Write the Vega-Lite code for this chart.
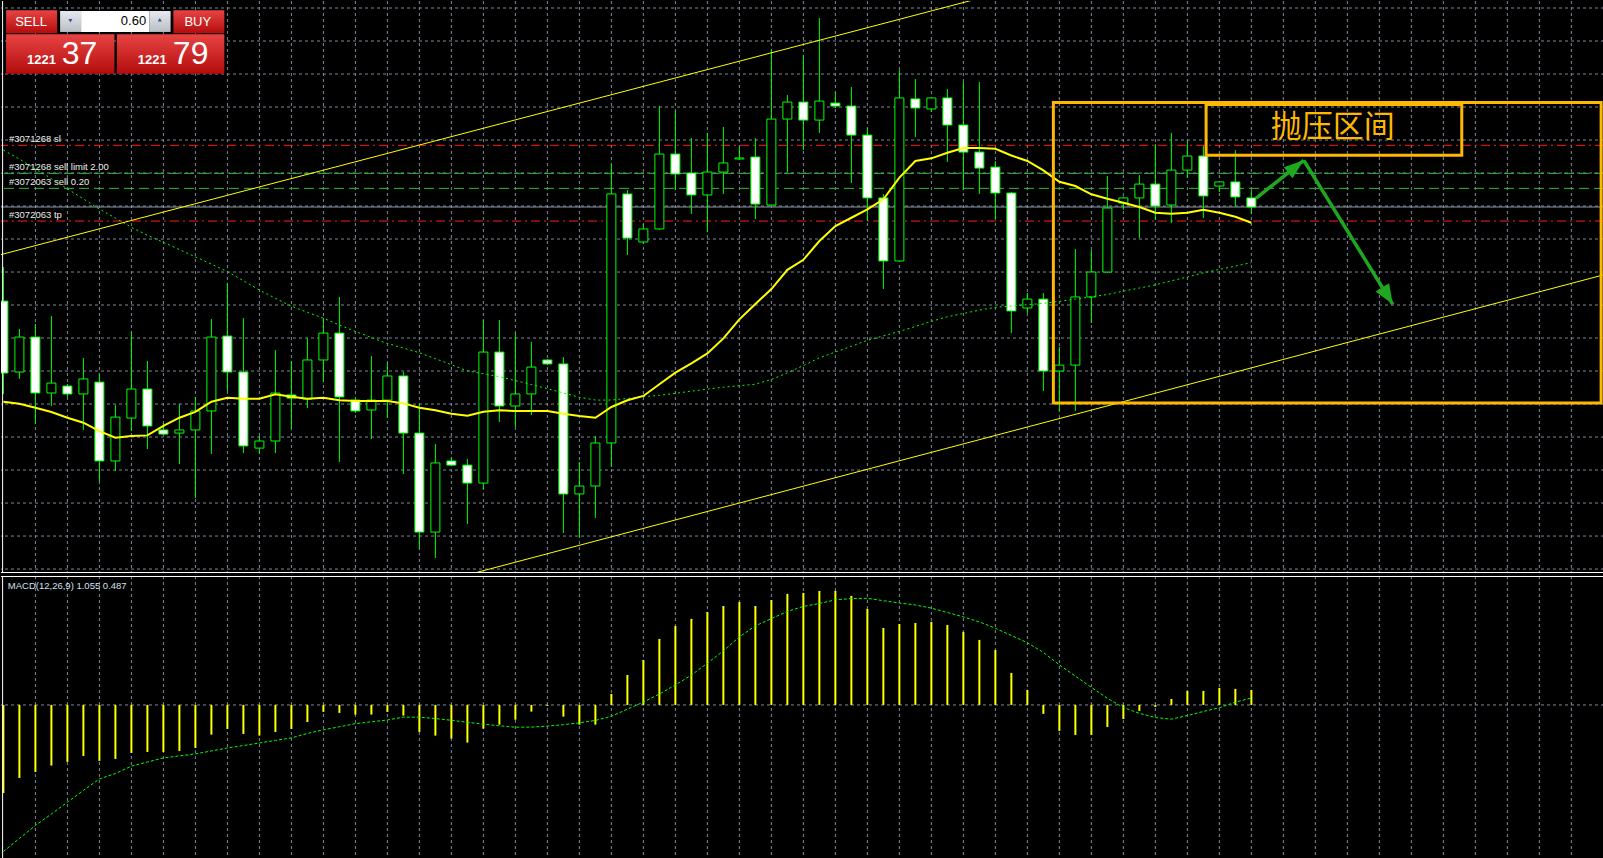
{
"$schema": "https://vega.github.io/schema/vega-lite/v6.json",
"background": "#000000",
"padding": 0,
"spacing": 1,
"config": {"view": {"stroke": null}, "scale": {"continuousPadding": 0}},
"datasets": {
"candles": [
{"i":0,"o":1215.67,"h":1217.73,"l":1210.04,"c":1211.31,"ma":1209.57,"ma2":1224.82,"m":-6.2,"s":-10.32},
{"i":1,"o":1211.37,"h":1213.98,"l":1210.95,"c":1213.49,"ma":1209.45,"ma2":1224.28,"m":-5.14,"s":-9.4},
{"i":2,"o":1213.49,"h":1214.28,"l":1208.22,"c":1210.1,"ma":1209.21,"ma2":1223.68,"m":-4.72,"s":-8.49},
{"i":3,"o":1210.1,"h":1214.76,"l":1209.31,"c":1210.7,"ma":1208.95,"ma2":1223.09,"m":-4.27,"s":-7.68},
{"i":4,"o":1210.52,"h":1210.64,"l":1209.86,"c":1210.04,"ma":1208.6,"ma2":1222.47,"m":-4.01,"s":-6.85},
{"i":5,"o":1210.04,"h":1212.22,"l":1207.86,"c":1210.95,"ma":1208.3,"ma2":1221.86,"m":-3.59,"s":-6.02},
{"i":6,"o":1210.76,"h":1211.25,"l":1204.76,"c":1205.98,"ma":1207.79,"ma2":1221.25,"m":-3.94,"s":-5.21},
{"i":7,"o":1205.98,"h":1209.37,"l":1205.37,"c":1208.64,"ma":1207.39,"ma2":1220.7,"m":-3.8,"s":-4.83},
{"i":8,"o":1208.58,"h":1213.79,"l":1207.79,"c":1210.34,"ma":1207.49,"ma2":1220.14,"m":-3.38,"s":-4.31},
{"i":9,"o":1210.34,"h":1212.04,"l":1206.7,"c":1208.1,"ma":1207.53,"ma2":1219.66,"m":-3.31,"s":-4.02},
{"i":10,"o":1207.86,"h":1208.28,"l":1207.55,"c":1207.61,"ma":1208.1,"ma2":1219.23,"m":-3.31,"s":-3.73},
{"i":11,"o":1207.67,"h":1209.43,"l":1205.79,"c":1207.86,"ma":1208.6,"ma2":1218.79,"m":-3.24,"s":-3.59},
{"i":12,"o":1207.86,"h":1209.86,"l":1203.73,"c":1209.01,"ma":1208.95,"ma2":1218.35,"m":-3.03,"s":-3.45},
{"i":13,"o":1209.01,"h":1214.58,"l":1206.4,"c":1213.49,"ma":1209.57,"ma2":1217.91,"m":-2.09,"s":-3.24},
{"i":14,"o":1213.55,"h":1216.76,"l":1210.22,"c":1211.37,"ma":1209.81,"ma2":1217.46,"m":-1.69,"s":-3.03},
{"i":15,"o":1211.37,"h":1214.64,"l":1206.46,"c":1206.89,"ma":1209.75,"ma2":1216.9,"m":-2.04,"s":-2.86},
{"i":16,"o":1206.76,"h":1207.49,"l":1206.4,"c":1207.19,"ma":1209.75,"ma2":1216.34,"m":-2.16,"s":-2.68},
{"i":17,"o":1207.19,"h":1212.7,"l":1206.46,"c":1210.1,"ma":1210.02,"ma2":1215.84,"m":-1.9,"s":-2.5},
{"i":18,"o":1209.98,"h":1212.04,"l":1207.92,"c":1209.79,"ma":1209.87,"ma2":1215.36,"m":-1.69,"s":-2.32},
{"i":19,"o":1209.73,"h":1213.43,"l":1209.19,"c":1212.1,"ma":1209.75,"ma2":1214.99,"m":-1.2,"s":-2.01},
{"i":20,"o":1212.1,"h":1214.64,"l":1210.76,"c":1213.73,"ma":1209.81,"ma2":1214.63,"m":-0.49,"s":-1.75},
{"i":21,"o":1213.73,"h":1215.92,"l":1205.92,"c":1209.86,"ma":1209.66,"ma2":1214.22,"m":-0.56,"s":-1.54},
{"i":22,"o":1209.67,"h":1209.79,"l":1208.89,"c":1209.01,"ma":1209.61,"ma2":1213.83,"m":-0.68,"s":-1.32},
{"i":23,"o":1209.07,"h":1212.34,"l":1207.31,"c":1209.67,"ma":1209.61,"ma2":1213.46,"m":-0.68,"s":-1.19},
{"i":24,"o":1209.67,"h":1211.92,"l":1208.58,"c":1211.13,"ma":1209.61,"ma2":1213.1,"m":-0.49,"s":-1.06},
{"i":25,"o":1211.13,"h":1211.37,"l":1205.19,"c":1207.67,"ma":1209.47,"ma2":1212.82,"m":-0.75,"s":-0.86},
{"i":26,"o":1207.67,"h":1209.43,"l":1200.64,"c":1201.67,"ma":1209.21,"ma2":1212.54,"m":-1.9,"s":-0.86},
{"i":27,"o":1201.67,"h":1207.01,"l":1200.1,"c":1205.86,"ma":1209.05,"ma2":1212.18,"m":-2.16,"s":-0.96},
{"i":28,"o":1205.98,"h":1206.22,"l":1205.67,"c":1205.73,"ma":1208.84,"ma2":1211.81,"m":-2.37,"s":-1.08},
{"i":29,"o":1205.73,"h":1206.1,"l":1202.16,"c":1204.64,"ma":1208.72,"ma2":1211.44,"m":-2.65,"s":-1.22},
{"i":30,"o":1204.64,"h":1214.52,"l":1204.28,"c":1212.58,"ma":1208.96,"ma2":1211.26,"m":-1.67,"s":-1.35},
{"i":31,"o":1212.58,"h":1214.52,"l":1208.34,"c":1209.31,"ma":1209.05,"ma2":1211.09,"m":-1.39,"s":-1.47},
{"i":32,"o":1209.31,"h":1213.73,"l":1208.04,"c":1210.04,"ma":1209.01,"ma2":1210.85,"m":-1.04,"s":-1.57},
{"i":33,"o":1210.04,"h":1213.19,"l":1208.76,"c":1211.67,"ma":1209.01,"ma2":1210.61,"m":-0.47,"s":-1.56},
{"i":34,"o":1212.1,"h":1212.16,"l":1211.79,"c":1211.86,"ma":1209.01,"ma2":1210.36,"m":-0.07,"s":-1.49},
{"i":35,"o":1211.86,"h":1212.28,"l":1201.61,"c":1203.98,"ma":1208.84,"ma2":1210.1,"m":-0.82,"s":-1.39},
{"i":36,"o":1203.98,"h":1205.92,"l":1201.37,"c":1204.46,"ma":1208.7,"ma2":1209.84,"m":-1.39,"s":-1.26},
{"i":37,"o":1204.46,"h":1207.49,"l":1202.52,"c":1207.07,"ma":1208.6,"ma2":1209.67,"m":-1.39,"s":-1.09},
{"i":38,"o":1207.07,"h":1223.98,"l":1205.61,"c":1222.16,"ma":1209.25,"ma2":1209.67,"m":0.77,"s":-0.8},
{"i":39,"o":1222.16,"h":1222.4,"l":1218.46,"c":1219.49,"ma":1209.66,"ma2":1209.77,"m":2.11,"s":-0.3},
{"i":40,"o":1219.25,"h":1220.34,"l":1219.13,"c":1220.04,"ma":1209.92,"ma2":1209.87,"m":3.17,"s":0.2},
{"i":41,"o":1220.04,"h":1227.49,"l":1219.98,"c":1224.58,"ma":1210.63,"ma2":1209.96,"m":4.65,"s":0.77},
{"i":42,"o":1224.58,"h":1227.19,"l":1222.4,"c":1223.37,"ma":1211.33,"ma2":1210.08,"m":5.56,"s":1.41},
{"i":43,"o":1223.43,"h":1225.55,"l":1220.95,"c":1222.1,"ma":1211.9,"ma2":1210.21,"m":6.06,"s":2.1},
{"i":44,"o":1222.1,"h":1225.86,"l":1219.86,"c":1223.49,"ma":1212.5,"ma2":1210.33,"m":6.55,"s":2.94},
{"i":45,"o":1223.49,"h":1226.22,"l":1222.16,"c":1224.04,"ma":1213.41,"ma2":1210.45,"m":6.97,"s":3.81},
{"i":46,"o":1224.28,"h":1225.01,"l":1224.22,"c":1224.34,"ma":1214.56,"ma2":1210.54,"m":7.25,"s":4.79},
{"i":47,"o":1224.4,"h":1225.55,"l":1220.64,"c":1221.55,"ma":1215.49,"ma2":1210.63,"m":6.97,"s":5.57},
{"i":48,"o":1221.49,"h":1230.89,"l":1221.45,"c":1226.7,"ma":1216.4,"ma2":1210.92,"m":7.39,"s":6.08},
{"i":49,"o":1226.7,"h":1228.16,"l":1223.49,"c":1227.73,"ma":1217.56,"ma2":1211.32,"m":7.82,"s":6.58},
{"i":50,"o":1227.73,"h":1230.58,"l":1224.82,"c":1226.64,"ma":1218.17,"ma2":1211.76,"m":7.89,"s":6.94},
{"i":51,"o":1226.64,"h":1232.82,"l":1225.86,"c":1227.79,"ma":1219.31,"ma2":1212.23,"m":8.03,"s":7.14},
{"i":52,"o":1227.67,"h":1228.34,"l":1227.37,"c":1227.49,"ma":1220.22,"ma2":1212.58,"m":8.03,"s":7.4},
{"i":53,"o":1227.49,"h":1228.64,"l":1222.82,"c":1225.73,"ma":1220.72,"ma2":1212.93,"m":7.68,"s":7.49},
{"i":54,"o":1225.73,"h":1226.16,"l":1220.52,"c":1221.92,"ma":1221.23,"ma2":1213.29,"m":6.76,"s":7.51},
{"i":55,"o":1221.92,"h":1222.16,"l":1216.4,"c":1218.1,"ma":1221.84,"ma2":1213.56,"m":5.42,"s":7.34},
{"i":56,"o":1218.1,"h":1229.67,"l":1218.1,"c":1227.98,"ma":1223.15,"ma2":1213.83,"m":5.7,"s":7.18},
{"i":57,"o":1227.92,"h":1229.13,"l":1225.61,"c":1227.37,"ma":1224.16,"ma2":1214.13,"m":5.77,"s":7.04},
{"i":58,"o":1227.31,"h":1227.98,"l":1227.13,"c":1227.98,"ma":1224.32,"ma2":1214.44,"m":5.85,"s":6.82},
{"i":59,"o":1227.98,"h":1228.52,"l":1224.1,"c":1226.34,"ma":1224.66,"ma2":1214.72,"m":5.63,"s":6.51},
{"i":60,"o":1226.34,"h":1228.95,"l":1222.4,"c":1224.7,"ma":1224.95,"ma2":1214.92,"m":5.14,"s":6.2},
{"i":61,"o":1224.7,"h":1228.95,"l":1222.16,"c":1223.73,"ma":1224.95,"ma2":1215.12,"m":4.58,"s":5.85},
{"i":62,"o":1223.79,"h":1224.16,"l":1220.64,"c":1222.22,"ma":1224.9,"ma2":1215.29,"m":3.87,"s":5.4},
{"i":63,"o":1222.22,"h":1222.28,"l":1213.73,"c":1215.07,"ma":1224.49,"ma2":1215.37,"m":2.25,"s":4.89},
{"i":64,"o":1215.25,"h":1216.16,"l":1214.95,"c":1215.79,"ma":1224.16,"ma2":1215.45,"m":1.06,"s":4.38},
{"i":65,"o":1215.79,"h":1216.16,"l":1210.22,"c":1211.43,"ma":1223.59,"ma2":1215.53,"m":-0.63,"s":3.7},
{"i":66,"o":1211.43,"h":1212.89,"l":1209.0,"c":1211.79,"ma":1222.9,"ma2":1215.65,"m":-1.83,"s":2.82},
{"i":67,"o":1211.79,"h":1218.82,"l":1209.01,"c":1215.92,"ma":1222.64,"ma2":1215.79,"m":-2.11,"s":2.03},
{"i":68,"o":1215.92,"h":1218.76,"l":1214.34,"c":1217.43,"ma":1222.14,"ma2":1215.93,"m":-2.11,"s":1.24},
{"i":69,"o":1217.43,"h":1223.25,"l":1217.37,"c":1221.31,"ma":1221.87,"ma2":1216.07,"m":-1.55,"s":0.47},
{"i":70,"o":1221.61,"h":1222.0,"l":1221.2,"c":1221.92,"ma":1221.63,"ma2":1216.27,"m":-0.99,"s":-0.18},
{"i":71,"o":1221.92,"h":1223.31,"l":1219.49,"c":1222.76,"ma":1221.37,"ma2":1216.46,"m":-0.42,"s":-0.59},
{"i":72,"o":1222.76,"h":1225.19,"l":1220.58,"c":1221.43,"ma":1221.02,"ma2":1216.65,"m":-0.14,"s":-0.89},
{"i":73,"o":1221.49,"h":1225.86,"l":1220.4,"c":1223.61,"ma":1220.96,"ma2":1216.9,"m":0.42,"s":-1.0},
{"i":74,"o":1223.61,"h":1225.37,"l":1223.13,"c":1224.46,"ma":1221.02,"ma2":1217.13,"m":0.99,"s":-0.75},
{"i":75,"o":1224.46,"h":1225.07,"l":1220.7,"c":1222.04,"ma":1221.21,"ma2":1217.38,"m":0.99,"s":-0.46},
{"i":76,"o":1222.64,"h":1222.89,"l":1222.28,"c":1222.89,"ma":1221.02,"ma2":1217.59,"m":1.2,"s":-0.2},
{"i":77,"o":1222.89,"h":1224.82,"l":1221.43,"c":1221.98,"ma":1220.78,"ma2":1217.79,"m":1.13,"s":0.2},
{"i":78,"o":1221.92,"h":1222.4,"l":1220.95,"c":1221.37,"ma":1220.42,"ma2":1218.0,"m":1.055,"s":0.487}
],
"vgrid": [{"i":2},{"i":4},{"i":6},{"i":8},{"i":10},{"i":12},{"i":14},{"i":16},{"i":18},{"i":20},{"i":22},{"i":24},{"i":26},{"i":28},{"i":30},{"i":32},{"i":34},{"i":36},{"i":38},{"i":40},{"i":42},{"i":44},{"i":46},{"i":48},{"i":50},{"i":52},{"i":54},{"i":56},{"i":58},{"i":60},{"i":62},{"i":64},{"i":66},{"i":68},{"i":70},{"i":72},{"i":74},{"i":76},{"i":78},{"i":80},{"i":82},{"i":84},{"i":86},{"i":88},{"i":90},{"i":92},{"i":94},{"i":96},{"i":98}],
"hgrid": [{"price":1233.43},{"price":1231.43},{"price":1229.43},{"price":1227.43},{"price":1225.43},{"price":1223.43},{"price":1221.43},{"price":1219.43},{"price":1217.43},{"price":1215.43},{"price":1213.43},{"price":1211.43},{"price":1209.43},{"price":1207.43},{"price":1205.43},{"price":1203.43},{"price":1201.43},{"price":1199.43}],
"orders": [
{"label":"#3071268 sl","price":1225.11,"kind":"stop"},
{"label":"#3071268 sell limit 2.00","price":1223.41,"kind":"order"},
{"label":"#3072063 sell 0.20","price":1222.5,"kind":"order"},
{"label":"#3072063 tp","price":1220.52,"kind":"stop"}
],
"channel": [
{"line":"upper","i":-1,"price":1218.27},
{"line":"upper","i":62,"price":1234.27},
{"line":"lower","i":29.44,"price":1199.19},
{"line":"lower","i":101,"price":1217.51}
],
"zones": [
{"x1":65.625,"x2":99.86,"y1":1227.7,"y2":1209.49},
{"x1":75.17,"x2":91.15,"y1":1227.59,"y2":1224.5}
],
"arrows": [
{"arrow":"a1","i":78.29,"p":1221.9},
{"arrow":"a1","i":81.275,"p":1224.2},
{"arrow":"a2","i":81.275,"p":1224.2},
{"arrow":"a2","i":86.84,"p":1215.47}
]
},
"vconcat": [
{
"width": 1603,
"height": 572,
"layer": [
{
"data": {"name": "vgrid"},
"mark": {"type": "rule", "color": "#7D8898", "strokeWidth": 1, "strokeDash": [3, 3]},
"encoding": {
"x": {"field": "i", "type": "quantitative", "scale": {"domain": [-0.15, 100.04], "nice": false, "zero": false, "padding": 0}, "axis": null}
}
},
{
"data": {"name": "hgrid"},
"mark": {"type": "rule", "color": "#7D8898", "strokeWidth": 1, "strokeDash": [3, 3]},
"encoding": {
"y": {"field": "price", "type": "quantitative", "scale": {"domain": [1199.19, 1233.855], "nice": false, "zero": false}, "axis": null}
}
},
{
"data": {"name": "orders"},
"mark": {"type": "rule", "strokeWidth": 1},
"encoding": {
"y": {"field": "price", "type": "quantitative", "scale": {"domain": [1199.19, 1233.855], "nice": false, "zero": false}, "axis": null},
"color": {"field": "kind", "type": "nominal", "scale": {"domain": ["stop", "order"], "range": ["#FF1A1A", "#2CC02C"]}, "legend": null},
"strokeDash": {"field": "kind", "type": "nominal", "scale": {"domain": ["stop", "order"], "range": [[9, 4, 2, 4], [10, 5]]}, "legend": null}
}
},
{
"data": {"values": [{"label": "bid", "price": 1221.37}]},
"mark": {"type": "rule", "strokeWidth": 1, "color": "#8E98A6"},
"encoding": {
"y": {"field": "price", "type": "quantitative", "scale": {"domain": [1199.19, 1233.855], "nice": false, "zero": false}, "axis": null}
}
},
{
"data": {"name": "orders"},
"mark": {"type": "text", "align": "left", "baseline": "bottom", "dy": -1, "font": "Liberation Sans", "fontSize": 9.5, "color": "#EEEEEE", "clip": true},
"encoding": {
"x": {"datum": 0.35, "type": "quantitative", "scale": {"domain": [-0.15, 100.04], "nice": false, "zero": false, "padding": 0}, "axis": null},
"y": {"field": "price", "type": "quantitative", "scale": {"domain": [1199.19, 1233.855], "nice": false, "zero": false}, "axis": null},
"text": {"field": "label"}
}
},
{
"data": {"name": "candles"},
"mark": {"type": "rule", "color": "#00FF00", "strokeWidth": 1, "clip": true},
"encoding": {
"x": {"field": "i", "type": "quantitative", "scale": {"domain": [-0.15, 100.04], "nice": false, "zero": false, "padding": 0}, "axis": null},
"y": {"field": "l", "type": "quantitative", "scale": {"domain": [1199.19, 1233.855], "nice": false, "zero": false}, "axis": null},
"y2": {"field": "h"}
}
},
{
"data": {"name": "candles"},
"mark": {"type": "bar", "size": 9, "stroke": "#00FF00", "strokeWidth": 1, "clip": true, "fillOpacity": 1},
"encoding": {
"x": {"field": "i", "type": "quantitative", "scale": {"domain": [-0.15, 100.04], "nice": false, "zero": false, "padding": 0}, "axis": null},
"y": {"field": "o", "type": "quantitative", "scale": {"domain": [1199.19, 1233.855], "nice": false, "zero": false}, "axis": null},
"y2": {"field": "c"},
"fill": {"condition": {"test": "datum.c < datum.o", "value": "#FFFFFF"}, "value": "#000000"}
}
},
{
"data": {"name": "candles"},
"mark": {"type": "line", "color": "#00FF00", "strokeWidth": 1, "strokeDash": [2, 3], "clip": true},
"encoding": {
"x": {"field": "i", "type": "quantitative", "scale": {"domain": [-0.15, 100.04], "nice": false, "zero": false, "padding": 0}, "axis": null},
"y": {"field": "ma2", "type": "quantitative", "scale": {"domain": [1199.19, 1233.855], "nice": false, "zero": false}, "axis": null}
}
},
{
"data": {"name": "candles"},
"mark": {"type": "line", "color": "#FFFF00", "strokeWidth": 2, "clip": true},
"encoding": {
"x": {"field": "i", "type": "quantitative", "scale": {"domain": [-0.15, 100.04], "nice": false, "zero": false, "padding": 0}, "axis": null},
"y": {"field": "ma", "type": "quantitative", "scale": {"domain": [1199.19, 1233.855], "nice": false, "zero": false}, "axis": null}
}
},
{
"data": {"name": "channel"},
"mark": {"type": "line", "color": "#FFFF00", "strokeWidth": 1, "clip": true},
"encoding": {
"x": {"field": "i", "type": "quantitative", "scale": {"domain": [-0.15, 100.04], "nice": false, "zero": false, "padding": 0}, "axis": null},
"y": {"field": "price", "type": "quantitative", "scale": {"domain": [1199.19, 1233.855], "nice": false, "zero": false}, "axis": null},
"detail": {"field": "line"}
}
},
{
"data": {"name": "zones"},
"mark": {"type": "rect", "filled": false, "color": "#FFB800", "strokeWidth": 3, "clip": true},
"encoding": {
"x": {"field": "x1", "type": "quantitative", "scale": {"domain": [-0.15, 100.04], "nice": false, "zero": false, "padding": 0}, "axis": null},
"x2": {"field": "x2"},
"y": {"field": "y1", "type": "quantitative", "scale": {"domain": [1199.19, 1233.855], "nice": false, "zero": false}, "axis": null},
"y2": {"field": "y2"}
}
},
{
"data": {"values": [{"label": "抛压区间", "i": 83.09, "p": 1226.18}]},
"mark": {"type": "text", "align": "center", "baseline": "middle", "font": "Noto Sans CJK SC", "fontSize": 31, "color": "#FFB800", "clip": true},
"encoding": {
"x": {"field": "i", "type": "quantitative", "scale": {"domain": [-0.15, 100.04], "nice": false, "zero": false, "padding": 0}, "axis": null},
"y": {"field": "p", "type": "quantitative", "scale": {"domain": [1199.19, 1233.855], "nice": false, "zero": false}, "axis": null},
"text": {"field": "label"}
}
},
{
"data": {"name": "arrows"},
"mark": {"type": "line", "color": "#1FA81F", "strokeWidth": 3.5, "clip": true},
"encoding": {
"x": {"field": "i", "type": "quantitative", "scale": {"domain": [-0.15, 100.04], "nice": false, "zero": false, "padding": 0}, "axis": null},
"y": {"field": "p", "type": "quantitative", "scale": {"domain": [1199.19, 1233.855], "nice": false, "zero": false}, "axis": null},
"detail": {"field": "arrow"}
}
},
{
"data": {"values": [{"arrow": "a1", "i": 81.275, "p": 1224.2}]},
"mark": {"type": "point", "shape": "M0,0L-0.35,1L0.35,1Z", "size": 1600, "angle": 51.5, "filled": true, "color": "#1FA81F", "opacity": 1, "strokeWidth": 0, "clip": true},
"encoding": {
"x": {"field": "i", "type": "quantitative", "scale": {"domain": [-0.15, 100.04], "nice": false, "zero": false, "padding": 0}, "axis": null},
"y": {"field": "p", "type": "quantitative", "scale": {"domain": [1199.19, 1233.855], "nice": false, "zero": false}, "axis": null}
}
},
{
"data": {"values": [{"arrow": "a2", "i": 86.84, "p": 1215.47}]},
"mark": {"type": "point", "shape": "M0,0L-0.4,1L0.4,1Z", "size": 1600, "angle": 148.3, "filled": true, "color": "#1FA81F", "opacity": 1, "strokeWidth": 0, "clip": true},
"encoding": {
"x": {"field": "i", "type": "quantitative", "scale": {"domain": [-0.15, 100.04], "nice": false, "zero": false, "padding": 0}, "axis": null},
"y": {"field": "p", "type": "quantitative", "scale": {"domain": [1199.19, 1233.855], "nice": false, "zero": false}, "axis": null}
}
},
{
"data": {"values": [{"part": "sell button", "x1": 0.169, "x2": 3.356, "y1": 1233.29, "y2": 1231.9}, {"part": "buy button", "x1": 10.625, "x2": 13.81, "y1": 1233.29, "y2": 1231.9}, {"part": "sell price", "x1": 0.169, "x2": 6.94, "y1": 1231.84, "y2": 1229.45}, {"part": "buy price", "x1": 7.09, "x2": 13.81, "y1": 1231.84, "y2": 1229.45}]},
"mark": {"type": "rect", "clip": true, "color": {"gradient": "linear", "x1": 0, "y1": 0, "x2": 0, "y2": 1, "stops": [{"offset": 0, "color": "#E84444"}, {"offset": 1, "color": "#B40C0C"}]}},
"encoding": {
"x": {"field": "x1", "type": "quantitative", "scale": {"domain": [-0.15, 100.04], "nice": false, "zero": false, "padding": 0}, "axis": null},
"x2": {"field": "x2"},
"y": {"field": "y1", "type": "quantitative", "scale": {"domain": [1199.19, 1233.855], "nice": false, "zero": false}, "axis": null},
"y2": {"field": "y2"}
}
},
{
"data": {"values": [{"part": "down", "x1": 3.544, "x2": 4.856, "y1": 1233.25, "y2": 1231.98}, {"part": "up", "x1": 9.125, "x2": 10.45, "y1": 1233.25, "y2": 1231.98}]},
"mark": {"type": "rect", "clip": true, "color": {"gradient": "linear", "x1": 0, "y1": 0, "x2": 0, "y2": 1, "stops": [{"offset": 0, "color": "#E6E9EE"}, {"offset": 1, "color": "#B9BEC6"}]}},
"encoding": {
"x": {"field": "x1", "type": "quantitative", "scale": {"domain": [-0.15, 100.04], "nice": false, "zero": false, "padding": 0}, "axis": null},
"x2": {"field": "x2"},
"y": {"field": "y1", "type": "quantitative", "scale": {"domain": [1199.19, 1233.855], "nice": false, "zero": false}, "axis": null},
"y2": {"field": "y2"}
}
},
{
"data": {"values": [{"part": "lot", "x1": 4.856, "x2": 9.125, "y1": 1233.25, "y2": 1231.98}]},
"mark": {"type": "rect", "color": "#FFFFFF", "clip": true},
"encoding": {
"x": {"field": "x1", "type": "quantitative", "scale": {"domain": [-0.15, 100.04], "nice": false, "zero": false, "padding": 0}, "axis": null},
"x2": {"field": "x2"},
"y": {"field": "y1", "type": "quantitative", "scale": {"domain": [1199.19, 1233.855], "nice": false, "zero": false}, "axis": null},
"y2": {"field": "y2"}
}
},
{
"data": {"values": [{"part": "down", "i": 4.19, "p": 1232.66}]},
"mark": {"type": "point", "shape": "triangle-down", "size": 16, "filled": true, "color": "#3C5390", "opacity": 1, "clip": true},
"encoding": {
"x": {"field": "i", "type": "quantitative", "scale": {"domain": [-0.15, 100.04], "nice": false, "zero": false, "padding": 0}, "axis": null},
"y": {"field": "p", "type": "quantitative", "scale": {"domain": [1199.19, 1233.855], "nice": false, "zero": false}, "axis": null}
}
},
{
"data": {"values": [{"part": "up", "i": 9.775, "p": 1232.72}]},
"mark": {"type": "point", "shape": "triangle-up", "size": 16, "filled": true, "color": "#3C5390", "opacity": 1, "clip": true},
"encoding": {
"x": {"field": "i", "type": "quantitative", "scale": {"domain": [-0.15, 100.04], "nice": false, "zero": false, "padding": 0}, "axis": null},
"y": {"field": "p", "type": "quantitative", "scale": {"domain": [1199.19, 1233.855], "nice": false, "zero": false}, "axis": null}
}
},
{
"data": {"values": [{"label": "SELL", "i": 1.73, "p": 1232.6}, {"label": "BUY", "i": 12.15, "p": 1232.6}]},
"mark": {"type": "text", "align": "center", "baseline": "middle", "font": "Liberation Sans", "fontSize": 13, "color": "#FFFFFF", "clip": true},
"encoding": {
"x": {"field": "i", "type": "quantitative", "scale": {"domain": [-0.15, 100.04], "nice": false, "zero": false, "padding": 0}, "axis": null},
"y": {"field": "p", "type": "quantitative", "scale": {"domain": [1199.19, 1233.855], "nice": false, "zero": false}, "axis": null},
"text": {"field": "label"}
}
},
{
"data": {"values": [{"label": "0.60", "i": 8.92, "p": 1232.64}]},
"mark": {"type": "text", "align": "right", "baseline": "middle", "font": "Liberation Sans", "fontSize": 13, "color": "#000000", "clip": true},
"encoding": {
"x": {"field": "i", "type": "quantitative", "scale": {"domain": [-0.15, 100.04], "nice": false, "zero": false, "padding": 0}, "axis": null},
"y": {"field": "p", "type": "quantitative", "scale": {"domain": [1199.19, 1233.855], "nice": false, "zero": false}, "axis": null},
"text": {"field": "label"}
}
},
{
"data": {"values": [{"label": "1221", "i": 3.29, "p": 1230.02}, {"label": "1221", "i": 10.21, "p": 1230.02}]},
"mark": {"type": "text", "align": "right", "baseline": "alphabetic", "font": "Liberation Sans", "fontSize": 13, "fontWeight": "bold", "color": "#FFFFFF", "clip": true},
"encoding": {
"x": {"field": "i", "type": "quantitative", "scale": {"domain": [-0.15, 100.04], "nice": false, "zero": false, "padding": 0}, "axis": null},
"y": {"field": "p", "type": "quantitative", "scale": {"domain": [1199.19, 1233.855], "nice": false, "zero": false}, "axis": null},
"text": {"field": "label"}
}
},
{
"data": {"values": [{"label": "37", "i": 3.65, "p": 1230.02}, {"label": "79", "i": 10.59, "p": 1230.02}]},
"mark": {"type": "text", "align": "left", "baseline": "alphabetic", "font": "Liberation Sans", "fontSize": 32, "color": "#FFFFFF", "clip": true},
"encoding": {
"x": {"field": "i", "type": "quantitative", "scale": {"domain": [-0.15, 100.04], "nice": false, "zero": false, "padding": 0}, "axis": null},
"y": {"field": "p", "type": "quantitative", "scale": {"domain": [1199.19, 1233.855], "nice": false, "zero": false}, "axis": null},
"text": {"field": "label"}
}
},
{
"data": {"values": [{"edge": "left"}]},
"mark": {"type": "rule", "color": "#FFFFFF", "strokeWidth": 1},
"encoding": {
"x": {"datum": -0.05, "type": "quantitative", "scale": {"domain": [-0.15, 100.04], "nice": false, "zero": false, "padding": 0}, "axis": null}
}
},
{
"data": {"values": [{"edge": "bottom"}]},
"mark": {"type": "rule", "color": "#FFFFFF", "strokeWidth": 1},
"encoding": {
"y": {"datum": 1199.22, "type": "quantitative", "scale": {"domain": [1199.19, 1233.855], "nice": false, "zero": false}, "axis": null}
}
}
]
},
{
"width": 1603,
"height": 285,
"layer": [
{
"data": {"name": "vgrid"},
"mark": {"type": "rule", "color": "#7D8898", "strokeWidth": 1, "strokeDash": [3, 3]},
"encoding": {
"x": {"field": "i", "type": "quantitative", "scale": {"domain": [-0.15, 100.04], "nice": false, "zero": false, "padding": 0}, "axis": null}
}
},
{
"data": {"values": [{"level": 0}]},
"mark": {"type": "rule", "color": "#7D8898", "strokeWidth": 1, "strokeDash": [3, 3]},
"encoding": {
"y": {"field": "level", "type": "quantitative", "scale": {"domain": [-10.99, 9.08], "nice": false, "zero": false}, "axis": null}
}
},
{
"data": {"name": "candles"},
"mark": {"type": "bar", "size": 2, "color": "#FFFF00", "clip": true},
"encoding": {
"x": {"field": "i", "type": "quantitative", "scale": {"domain": [-0.15, 100.04], "nice": false, "zero": false, "padding": 0}, "axis": null},
"y": {"field": "m", "type": "quantitative", "scale": {"domain": [-10.99, 9.08], "nice": false, "zero": false}, "axis": null},
"y2": {"datum": 0}
}
},
{
"data": {"name": "candles"},
"mark": {"type": "line", "color": "#00FF00", "strokeWidth": 1, "strokeDash": [3, 2], "clip": true},
"encoding": {
"x": {"field": "i", "type": "quantitative", "scale": {"domain": [-0.15, 100.04], "nice": false, "zero": false, "padding": 0}, "axis": null},
"y": {"field": "s", "type": "quantitative", "scale": {"domain": [-10.99, 9.08], "nice": false, "zero": false}, "axis": null}
}
},
{
"data": {"values": [{"label": "MACD(12,26,9) 1.055 0.487", "i": 0.275, "v": 8.4}]},
"mark": {"type": "text", "align": "left", "baseline": "middle", "font": "Liberation Sans", "fontSize": 9.5, "color": "#D6E2EE", "clip": true},
"encoding": {
"x": {"field": "i", "type": "quantitative", "scale": {"domain": [-0.15, 100.04], "nice": false, "zero": false, "padding": 0}, "axis": null},
"y": {"field": "v", "type": "quantitative", "scale": {"domain": [-10.99, 9.08], "nice": false, "zero": false}, "axis": null},
"text": {"field": "label"}
}
},
{
"data": {"values": [{"edge": "left"}]},
"mark": {"type": "rule", "color": "#FFFFFF", "strokeWidth": 1},
"encoding": {
"x": {"datum": -0.05, "type": "quantitative", "scale": {"domain": [-0.15, 100.04], "nice": false, "zero": false, "padding": 0}, "axis": null}
}
},
{
"data": {"values": [{"edge": "top"}]},
"mark": {"type": "rule", "color": "#FFFFFF", "strokeWidth": 1},
"encoding": {
"y": {"datum": 9.045, "type": "quantitative", "scale": {"domain": [-10.99, 9.08], "nice": false, "zero": false}, "axis": null}
}
}
]
}
]
}
